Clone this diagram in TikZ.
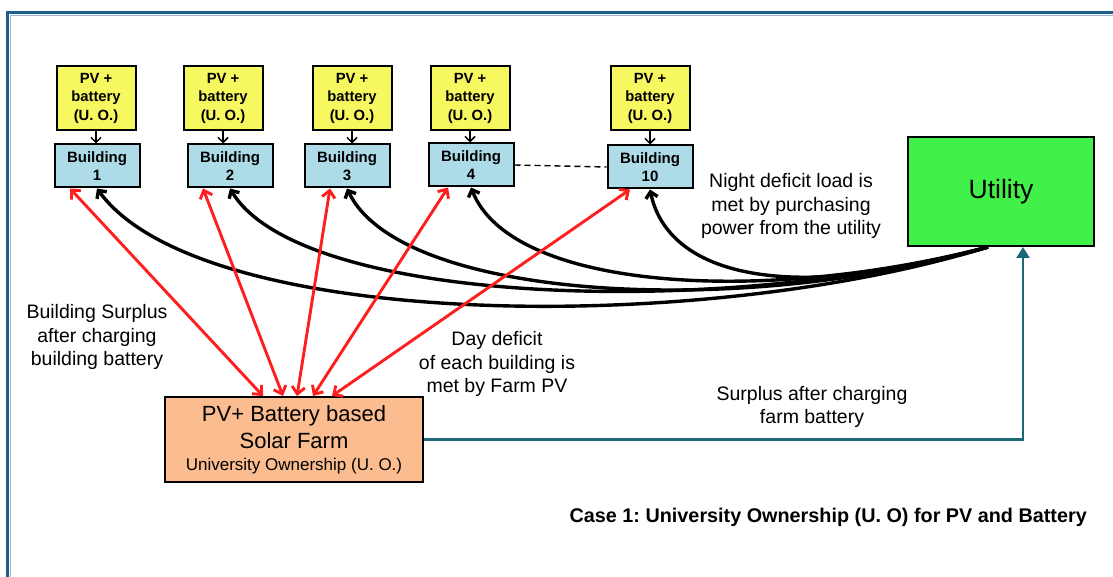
\documentclass[tikz,border=0pt]{standalone}
\usepackage{fontspec}
\setmainfont{Liberation Sans}
\usetikzlibrary{arrows,arrows.meta,positioning,calc}
\frenchspacing

\definecolor{pvyellow}{HTML}{F7F760}
\definecolor{bldgblue}{HTML}{ADDCE8}
\definecolor{utilgreen}{HTML}{42F04A}
\definecolor{farmorange}{HTML}{FBBC90}
\definecolor{surplusteal}{HTML}{1A6878}
\definecolor{framedark}{HTML}{1E5E8A}
\definecolor{framelight}{HTML}{9DB8D4}
\definecolor{dayred}{HTML}{FF1E1E}

\begin{document}
\begin{tikzpicture}[
    x=1pt, y=-1pt,
    pv/.style={rectangle,draw=black,line width=2pt,fill=pvyellow,
               minimum width=79pt,minimum height=64pt,inner sep=0pt,
               align=center,font=\fontsize{14.8}{18.5}\selectfont\bfseries},
    bldg/.style={rectangle,draw=black,line width=2pt,fill=bldgblue,
                 minimum width=85pt,minimum height=43pt,inner sep=0pt,
                 align=center,font=\fontsize{15}{18}\selectfont\bfseries},
    util/.style={rectangle,draw=black,line width=2pt,fill=utilgreen,
                 minimum width=186pt,minimum height=109pt,
                 font=\fontsize{26.5}{30}\selectfont},
    farm/.style={rectangle,draw=black,line width=2pt,fill=farmorange,
                 minimum width=258pt,minimum height=85pt,inner sep=0pt,
                 align=center,font=\fontsize{22}{27}\selectfont},
    lbl/.style={align=center,inner sep=0pt,
                font=\fontsize{19.5}{23.5}\selectfont},
    feed/.style={-{Straight Barb[length=5pt,width=10pt]},line width=1.5pt},
    dayflow/.style={{Straight Barb[length=7pt,width=13pt]}-{Straight Barb[length=7pt,width=13pt]},
                    draw=dayred,line width=2.9pt},
    night/.style={-{Straight Barb[length=6pt,width=12pt]},line width=3.4pt},
    surplus/.style={-{Triangle[length=11pt,width=13pt]},draw=surplusteal,
                    line width=2.6pt}]

    \useasboundingbox (0,0) rectangle (1113,577);
    \fill[white] (0,0) rectangle (1113,577);
    \draw[framelight,line width=1.5pt] (10.5,577) -- (10.5,15.5) -- (1113,15.5);
    \draw[framedark,line width=3.5pt] (7.5,577) -- (7.5,12.5) -- (1113,12.5);

    \node[bldg] (b1)  at (97,166)  {Building\\1};
    \node[bldg] (b2)  at (230,166) {Building\\2};
    \node[bldg] (b3)  at (347,166) {Building\\3};
    \node[bldg] (b4)  at (471,165) {Building\\4};
    \node[bldg] (b10) at (650,167) {Building\\10};

    \node[pv] (pv1)  at (96,98)  {PV +\\battery\\(U. O.)};
    \node[pv] (pv2)  at (223,98) {PV +\\battery\\(U. O.)};
    \node[pv] (pv3)  at (352,98) {PV +\\battery\\(U. O.)};
    \node[pv] (pv4)  at (470,98) {PV +\\battery\\(U. O.)};
    \node[pv] (pv10) at (650,98) {PV +\\battery\\(U. O.)};

    \foreach \n in {1,2,3,4,10}
        \draw[feed] (pv\n.south) -- (pv\n.south |- b\n.north);

    \draw[dashed,line width=1.4pt,dash pattern=on 6pt off 4pt] (b4.east) -- (b10.west);

    \node[util] (util) at (1001,191.5) {Utility};
    \node[farm] (farm) at (294,439.5)
        {PV+ Battery based\\Solar Farm\\[-5pt]
         {\fontsize{17}{20}\selectfont University Ownership (U. O.)}};

    \coordinate (hub) at ([xshift=-13pt]util.south);

    \draw[night] (hub) .. controls +(-288,89) and +(103,142) .. (b1.south);
    \draw[night] (hub) .. controls +(-268,72) and +(70,117) .. (b2.south);
    \draw[night] (hub) .. controls +(-248,72) and +(53,112) .. (b3.south);
    \draw[night] (hub) .. controls +(-228,59) and +(40,102) .. (b4.south);
    \draw[night] (hub) .. controls +(-200,58) and +(18,86) .. (b10.south);

    \draw[dayflow] ([xshift=-27pt]b1.south)  -- ([xshift=-31pt]farm.north);
    \draw[dayflow] ([xshift=-27pt]b2.south)  -- ([xshift=-11pt]farm.north);
    \draw[dayflow] ([xshift=-17pt]b3.south)  -- ([xshift=3pt]farm.north);
    \draw[dayflow] ([xshift=-23pt]b4.south)  -- ([xshift=19pt]farm.north);
    \draw[dayflow] ([xshift=-20pt]b10.south) -- ([xshift=38pt]farm.north);

    \draw[surplus] (farm.east) -| ([xshift=22pt]util.south);

    \node[lbl] (surpl) at (97,337)  {Building Surplus\\after charging\\building battery};
    \node[lbl] (dayd)  at (497,364) {Day deficit\\of each building is\\met by Farm PV};
    \node[lbl] (nightd) at (791,206) {Night deficit load is\\met by purchasing\\power from the utility};
    \node[lbl] (farms) at (812,407) {Surplus after charging\\farm battery};
    \node[lbl,anchor=east,font=\fontsize{19.8}{23.5}\selectfont\bfseries] (case)
        at (1087,517) {Case 1: University Ownership (U. O) for PV and Battery};
\end{tikzpicture}
\end{document}
